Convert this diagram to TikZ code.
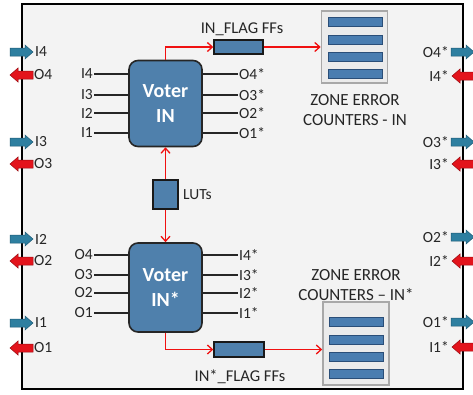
\documentclass[tikz,border=0pt]{standalone}
\usepackage{fontspec}
\setmainfont{Carlito}
\usetikzlibrary{arrows.meta,calc}
\definecolor{boxblue}{HTML}{4F80AC}
\definecolor{barblue}{HTML}{4A7DB0}
\definecolor{bardark}{HTML}{2A4E78}
\definecolor{portblue}{HTML}{2E7FA0}
\definecolor{portbluedk}{HTML}{1D5A75}
\definecolor{portred}{HTML}{E3141C}
\definecolor{portreddk}{HTML}{9A0A10}
\definecolor{panel}{HTML}{F3F3F3}
\definecolor{txt}{HTML}{262626}
\definecolor{ctrgray}{HTML}{A8A8A8}
\definecolor{ctrfill}{HTML}{EBEBEB}
\definecolor{flagred}{HTML}{F01010}
\tikzset{
  lbl/.style={font=\fontsize{15.5}{15.5}\selectfont, text=txt, inner sep=1pt},
  fflbl/.style={font=\fontsize{16.5}{16.5}\selectfont, text=txt, inner sep=0pt},
  zonelbl/.style={font=\fontsize{17}{20}\selectfont, text=txt, align=center, inner sep=0pt},
  voter/.style={draw=black!85, line width=1.6pt, fill=boxblue, rounded corners=9pt,
    minimum width=73pt, minimum height=86pt, inner sep=0pt, text=white,
    font=\fontsize{20}{25}\selectfont\bfseries, align=center},
  ffbox/.style={draw=black!90, line width=1.4pt, fill=boxblue, inner sep=0pt},
  ctrbox/.style={draw=ctrgray, line width=1.6pt, fill=ctrfill, inner sep=0pt,
    minimum width=66pt},
  bar/.style={draw=bardark, line width=0.8pt, fill=barblue},
  wire/.style={draw=black!85, line width=1.2pt},
  flag/.style={draw=flagred, line width=1.3pt, -{Straight Barb[length=5pt,width=9pt]}},
  inport/.style={fill=portblue, draw=portbluedk, line width=0.5pt},
  outport/.style={fill=portred, draw=portreddk, line width=0.5pt},
}
% right-pointing block arrow from #1 to #2 at height #3
\newcommand\blockR[4]{%
  \draw[#4] (#1,#3-4) -- (#2-8,#3-4) -- (#2-8,#3-7) -- (#2,#3) -- (#2-8,#3+7)
    -- (#2-8,#3+4) -- (#1,#3+4) -- cycle;}
% left-pointing block arrow with its tip at #1 and its tail at #2
\newcommand\blockL[4]{%
  \draw[#4] (#2,#3-4) -- (#1+8,#3-4) -- (#1+8,#3-7) -- (#1,#3) -- (#1+8,#3+7)
    -- (#1+8,#3+4) -- (#2,#3+4) -- cycle;}
\begin{document}
\begin{tikzpicture}[x=1pt,y=-1pt]
\useasboundingbox (0,0) rectangle (473,394);
\fill[white] (0,0) rectangle (473,394);
% module outline
\draw[fill=panel, line width=1.8pt, draw=black] (22,4) rectangle (463,389);

% ports on the left edge
\foreach \yi/\yo/\n in {52/75/4, 142/164/3, 239/261/2, 323/348/1}{
  \blockR{10}{33}{\yi}{inport}
  \blockL{10}{33}{\yo}{outport}
  \node[lbl, anchor=west] (pi\n) at (34,\yi) {I\n};
  \node[lbl, anchor=west] (po\n) at (33,\yo) {O\n};
}
% ports on the right edge
\foreach \yo/\yi/\n in {52/76/4, 142/164/3, 237/261/2, 322/347/1}{
  \blockR{451}{474}{\yo}{inport}
  \blockL{452}{475}{\yi}{outport}
  \node[lbl, anchor=east] (qo\n) at (450,\yo) {O\n*};
  \node[lbl, anchor=east] (qi\n) at (450,\yi) {I\n*};
}

% voters
\node[voter] (vin) at (165.5,103.5) {Voter\\IN};
\node[voter, minimum height=89pt] (vins) at (165.5,287.5) {Voter\\IN*};

% voter IN inputs and outputs
\foreach \y/\n in {74/4, 95/3, 113/2, 133/1}{
  \node[lbl, anchor=east] (ai\n) at (94,\y) {I\n};
  \draw[wire] (ai\n.east) -- (vin.west |- ai\n.east);
  \node[lbl, anchor=west] (ao\n) at (238,\y) {O\n*};
  \draw[wire] (vin.east |- ao\n.west) -- (ao\n.west);
}
% voter IN* inputs and outputs
\foreach \y/\n in {255/4, 275/3, 293/2, 313/1}{
  \node[lbl, anchor=east] (bo\n) at (94,\y) {O\n};
  \draw[wire] (bo\n.east) -- (vins.west |- bo\n.east);
  \node[lbl, anchor=west] (bi\n) at (238,\y) {I\n*};
  \draw[wire] (vins.east |- bi\n.west) -- (bi\n.west);
}

% lookup tables between the voters
\node[ffbox, minimum width=25pt, minimum height=29pt] (luts) at (165.5,194.5) {};
\node[lbl, anchor=west] (lutslbl) at (182,194.5) {LUTs};
\draw[flag] (luts.north) -- (vin.south);
\draw[flag] (luts.south) -- (vins.north);

% flag flip-flops
\node[ffbox, minimum width=49pt, minimum height=14pt] (ffin) at (238.5,47) {};
\node[fflbl] (ffinlbl) at (242,29) {IN\_FLAG FFs};
\node[ffbox, minimum width=50pt, minimum height=15pt] (ffins) at (239,349.5) {};
\node[fflbl] (ffinslbl) at (240,377) {IN*\_FLAG FFs};
\draw[flag] (vin.north) |- (ffin.west);
\draw[flag] (vins.south) |- (ffins.west);

% zone error counters
\node[ctrbox, minimum height=72pt] (cin) at (354.5,47) {};
\foreach \y in {22,40,57,74}
  \draw[bar] (328,\y-4.5) rectangle (382,\y+4.5);
\node[ctrbox, minimum height=83pt] (cins) at (356,343.5) {};
\foreach \y in {322,340,357,374}
  \draw[bar] (329,\y-4.5) rectangle (383,\y+4.5);
\draw[flag] (ffin.east) -- (cin.west |- ffin.east);
\draw[flag] (ffins.east) -- (cins.west |- ffins.east);

\node[zonelbl] (cinlbl) at (355,110) {ZONE ERROR\\COUNTERS - IN};
\node[zonelbl] (cinslbl) at (356,285) {ZONE ERROR\\COUNTERS -- IN*};
\end{tikzpicture}
\end{document}
